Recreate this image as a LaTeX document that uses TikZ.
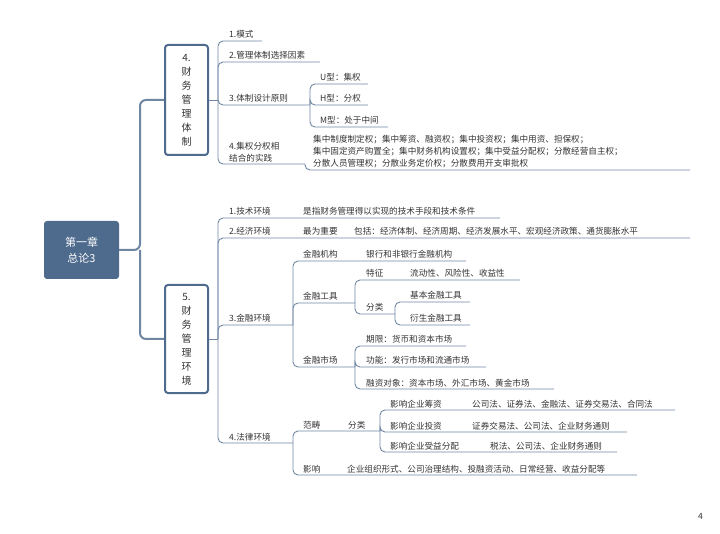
\documentclass[tikz,border=0pt]{standalone}
\usepackage{fontspec}
\newfontfamily\cjk{Noto Sans CJK SC}
\begin{document}
\begin{tikzpicture}[x=1pt,y=-1pt,
 ln/.style={draw=lnc,line width=0.9pt,rounded corners=5pt},
 thk/.style={draw=lnc,line width=2pt,rounded corners=6pt},
 lbl/.style={anchor=base west,inner sep=0pt,text=txc,font=\cjk\fontsize{8.6}{12}\selectfont},
 box/.style={draw=boxc,line width=2pt,rounded corners=3pt,fill=white,text=txc,align=center,font=\cjk\fontsize{10}{14}\selectfont,minimum width=43pt}]
\definecolor{lnc}{HTML}{6F87A3}
\definecolor{boxc}{HTML}{4E6A8C}
\definecolor{txc}{HTML}{333333}
\useasboundingbox (0,0) rectangle (720,534);
% root and boxes
\node[fill=boxc,rounded corners=3pt,minimum width=75pt,minimum height=58pt,text=white,align=center,font=\cjk\fontsize{11}{16}\selectfont] (root) at (81.5,250) {第一章\\总论3};
\node[box,minimum height=110pt] (b4) at (186.5,100) {4.\\财\\务\\管\\理\\体\\制};
\node[box,minimum height=108pt] (b5) at (186.5,339) {5.\\财\\务\\管\\理\\环\\境};
\draw[thk] (root.east) -- (140,250) |- (b4.west);
\draw[thk] (140,250) |- (b5.west);
% box 4 children
\draw[ln] (b4.east) -- (218,100);
\draw[ln] (218,100) |- (262,41);
\draw[ln] (218,100) |- (320,62);
\draw[ln] (218,100) |- (310,105);
\draw[ln] (218,100) |- (305,164);
\node[lbl] (a1) at (229,38) {1.模式};
\node[lbl] (a2) at (229,59) {2.管理体制选择因素};
\node[lbl] (a3) at (229,102) {3.体制设计原则};
\node[lbl,align=left,anchor=west] (a4) at (229,152) {4.集权分权相\\结合的实践};
\draw[ln] (310,105) |- (368,84);
\draw[ln] (310,105) |- (368,105);
\draw[ln] (310,105) |- (388,127);
\node[lbl] (u) at (320,81) {U型：集权};
\node[lbl] (h) at (320,102) {H型：分权};
\node[lbl] (m) at (320,124) {M型：处于中间};
\draw[ln] (305,164) |- (690,170);
\node[lbl,align=left,anchor=west] (a4t) at (313,152) {集中制度制定权；集中筹资、融资权；集中投资权；集中用资、担保权；\\集中固定资产购置全；集中财务机构设置权；集中受益分配权；分散经营自主权；\\分散人员管理权；分散业务定价权；分散费用开支审批权};
% box 5 children
\draw[ln] (b5.east) -- (218,339);
\draw[ln] (218,339) |- (500,218);
\draw[ln] (218,339) |- (690,238);
\draw[ln] (218,339) |- (293,325);
\draw[ln] (218,339) |- (293,443);
\node[lbl] (c1) at (229,215) {1.技术环境};
\node[lbl] (c1t) at (303,215) {是指财务管理得以实现的技术手段和技术条件};
\node[lbl] (c2) at (229,235) {2.经济环境};
\node[lbl] (c2a) at (303,235) {最为重要};
\node[lbl] (c2t) at (354,235) {包括：经济体制、经济周期、经济发展水平、宏观经济政策、通货膨胀水平};
\node[lbl] (c3) at (229,322) {3.金融环境};
\draw[ln] (293,325) |- (466,261);
\draw[ln] (293,325) |- (355,303);
\draw[ln] (293,325) |- (355,367);
\node[lbl] (f1) at (303,258) {金融机构};
\node[lbl] (f1t) at (366,258) {银行和非银行金融机构};
\node[lbl] (f2) at (303,300) {金融工具};
\node[lbl] (f3) at (303,364) {金融市场};
\draw[ln] (355,303) |- (520,280);
\draw[ln] (355,303) |- (395,314);
\node[lbl] (t1) at (366,277) {特征};
\node[lbl] (t1t) at (410,277) {流动性、风险性、收益性};
\node[lbl] (t2) at (366,311) {分类};
\draw[ln] (395,314) |- (470,302);
\draw[ln] (395,314) |- (470,325);
\node[lbl] (k1) at (410,299) {基本金融工具};
\node[lbl] (k2) at (410,322) {衍生金融工具};
\draw[ln] (355,367) |- (466,346);
\draw[ln] (355,367) |- (486,367);
\draw[ln] (355,367) |- (554,389);
\node[lbl] (s1) at (366,343) {期限：货币和资本市场};
\node[lbl] (s2) at (366,364) {功能：发行市场和流通市场};
\node[lbl] (s3) at (366,386) {融资对象：资本市场、外汇市场、黄金市场};
\node[lbl] (c4) at (229,440) {4.法律环境};
\draw[ln] (293,443) |- (380,431);
\draw[ln] (293,443) |- (637,475);
\node[lbl] (l1) at (303,428) {范畴};
\node[lbl] (l1b) at (348,428) {分类};
\node[lbl] (l2) at (303,472) {影响};
\node[lbl] (l2t) at (347,472) {企业组织形式、公司治理结构、投融资活动、日常经营、收益分配等};
\draw[ln] (380,431) |- (675,410);
\draw[ln] (380,431) |- (627,432);
\draw[ln] (380,431) |- (617,452);
\node[lbl] (p1) at (390,407) {影响企业筹资};
\node[lbl] (p1t) at (472,407) {公司法、证券法、金融法、证券交易法、合同法};
\node[lbl] (p2) at (390,429) {影响企业投资};
\node[lbl] (p2t) at (472,429) {证券交易法、公司法、企业财务通则};
\node[lbl] (p3) at (390,449) {影响企业受益分配};
\node[lbl] (p3t) at (490,449) {税法、公司法、企业财务通则};
\node[lbl] (pg) at (698,519) {4};
\end{tikzpicture}
\end{document}
